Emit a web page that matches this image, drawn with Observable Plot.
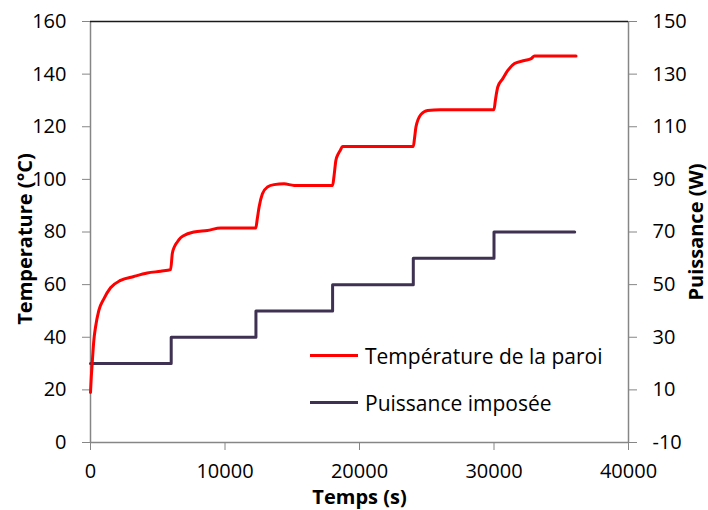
<!DOCTYPE html>
<html>
<head>
<meta charset="utf-8">
<script src="https://cdn.jsdelivr.net/npm/d3@7"></script>
<script src="https://cdn.jsdelivr.net/npm/@observablehq/plot@0.6"></script>
<style>
  html, body { margin: 0; padding: 0; background: #fff; }
  #wrap { position: relative; width: 708px; height: 510px; font-family: "Open Sans", sans-serif; }
  #legend { position: absolute; left: 310px; top: 332px; font-size: 21px; color: #000; }
  .item { display: flex; align-items: center; height: 47px; }
  .sw { width: 48px; height: 3px; margin-right: 7px; }
</style>
</head>
<body>
<div id="wrap"></div>
<script>
// Temperature de la paroi (°C) vs time (s)
const tempTime = [0, 60, 124, 248, 372, 620, 993, 1490, 2234, 3226, 4220, 5212, 5957,
  6080, 6250, 6453, 6700, 6950, 7692, 8687, 9680, 12286,
  12400, 12535, 12782, 13155, 13650, 14394, 15140, 18000,
  18100, 18243, 18400, 18566, 18740, 24000,
  24100, 24196, 24572, 25070, 26000, 30000,
  30100, 30280, 30655, 31027, 31523, 32267, 32763, 33010, 36100];
const tempVal = [19, 25, 29.9, 38.8, 43.8, 50.2, 54.6, 58.8, 61.6, 63.1, 64.4, 65.1, 65.7,
  71.7, 74.5, 76.2, 77.8, 78.7, 80, 80.6, 81.5, 81.5,
  85, 89.5, 94.5, 97.1, 98, 98.3, 97.7, 97.7,
  101, 107.2, 109.5, 111, 112.5, 112.5,
  116, 119.9, 124.7, 126.2, 126.5, 126.5,
  130, 135.1, 138.3, 141.4, 144, 145.2, 145.9, 146.9, 146.9];

// Puissance imposée (W) vs time (s)
const powerTime = [0, 6000, 12300, 18000, 24000, 30000, 36000];
const powerVal = [20, 30, 40, 50, 60, 70, 70];

// Axis ticks
const xTicks = [0, 10000, 20000, 30000, 40000];
const yLeftTicks = [0, 20, 40, 60, 80, 100, 120, 140, 160];
const yRightTicks = [-10, 10, 30, 50, 70, 90, 110, 130, 150];

const rightOffset = 10; // right axis value = left axis value - 10

const temp = tempTime.map((t, i) => ({t, v: tempVal[i]}));
const power = powerTime.map((t, i) => ({t, p: powerVal[i]}));

const axisColor = "#868686";
const tickFont = 20;

const chart = Plot.plot({
  width: 708,
  height: 510,
  marginLeft: 90,
  marginRight: 80,
  marginTop: 21,
  marginBottom: 68,
  style: {fontFamily: "Open Sans, sans-serif", color: "#000", background: "#fff"},
  x: {domain: [0, 40000]},
  y: {domain: [0, 160]},
  marks: [
    Plot.ruleX([0], {stroke: axisColor, strokeWidth: 1.5}),
    Plot.ruleX([40000], {stroke: axisColor, strokeWidth: 1.5}),
    Plot.ruleY([0], {stroke: axisColor, strokeWidth: 1.5}),
    Plot.ruleY([160], {stroke: "#1a1a1a", strokeWidth: 1.5}),
    Plot.axisX({ticks: xTicks, tickSize: 8, tickPadding: 13, fontSize: tickFont, stroke: axisColor, tickFormat: d => String(d), label: null}),
    Plot.axisY({anchor: "left", ticks: yLeftTicks, tickSize: 8, tickPadding: 16, fontSize: tickFont, stroke: axisColor, tickFormat: d => String(d), label: null}),
    Plot.axisY({anchor: "right", ticks: yRightTicks.map(d => d + rightOffset), tickSize: 8, tickPadding: 16, fontSize: tickFont, stroke: axisColor, tickFormat: d => String(d - rightOffset), label: null}),
    Plot.line(power, {x: "t", y: d => d.p + rightOffset, curve: "step-after", stroke: "#3f3151", strokeWidth: 3}),
    Plot.line(temp, {x: "t", y: "v", curve: "monotone-x", stroke: "#ff0000", strokeWidth: 3}),
    Plot.text(["Temperature (°C)"], {frameAnchor: "left", textAnchor: "middle", lineAnchor: "middle", dx: -65, dy: 7, rotate: -90, fontSize: 20, fontWeight: "bold", fill: "#000"}),
    Plot.text(["Puissance (W)"], {frameAnchor: "right", textAnchor: "middle", lineAnchor: "middle", dx: 68, dy: 0, rotate: -90, fontSize: 20, fontWeight: "bold", fill: "#000"}),
    Plot.text(["Temps (s)"], {frameAnchor: "bottom", lineAnchor: "middle", dy: 55, fontSize: 20, fontWeight: "bold", fill: "#000"})
  ]
});

const wrap = document.getElementById("wrap");
wrap.appendChild(chart);

const legend = document.createElement("div");
legend.id = "legend";
[["Température de la paroi", "#ff0000"], ["Puissance imposée", "#3f3151"]].forEach(([name, color]) => {
  const item = document.createElement("div");
  item.className = "item";
  const sw = document.createElement("span");
  sw.className = "sw";
  sw.style.background = color;
  const label = document.createElement("span");
  label.textContent = name;
  item.appendChild(sw);
  item.appendChild(label);
  legend.appendChild(item);
});
wrap.appendChild(legend);
</script>
</body>
</html>
